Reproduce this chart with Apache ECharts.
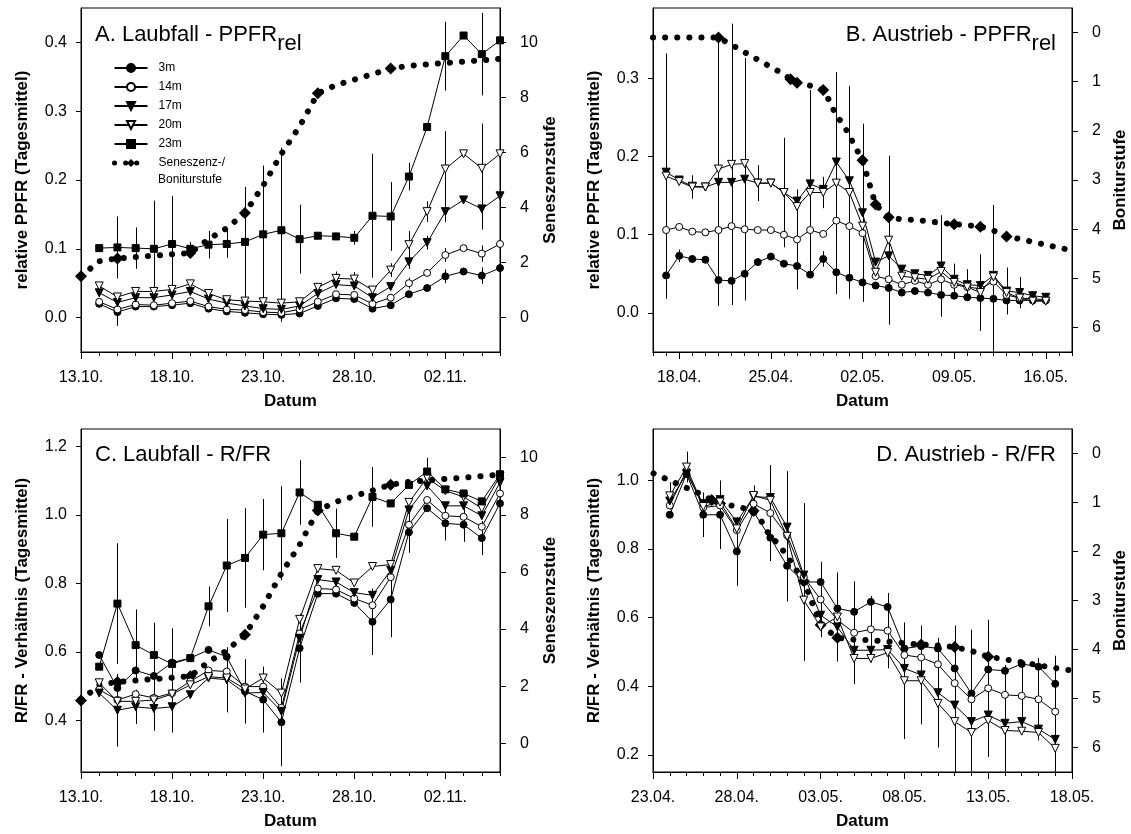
<!DOCTYPE html>
<html><head><meta charset="utf-8">
<script src="https://cdn.jsdelivr.net/npm/echarts@6/dist/echarts.min.js"></script>
<style>html,body{margin:0;padding:0;background:#fff}#c{width:1131px;height:834px}</style>
</head><body><div id="c"></div><script>
// ---------- Laubfall (A, C): day numbers after 13.10. ----------
const laubDays = [1,2,3,4,5,6,7,8,9,10,11,12,13,14,15,16,17,18,19,20,21,22,23];
const laubTickDays = [0,5,10,15,20];
const laubTickLabels = ['13.10.','18.10.','23.10.','28.10.','02.11.'];
// ---------- Austrieb (B, D): day numbers after 16.04. ----------
const austDaysB = [1,2,3,4,5,6,7,8,9,10,11,12,13,14,15,16,17,18,19,20,21,22,23,24,25,26,27,28,29,30];
const austDaysD = [8,9,10,11,12,13,14,15,16,17,18,19,20,21,22,23,24,25,26,27,28,29,30,31];
const bTickDays = [2,9,16,23,30];
const bTickLabels = ['18.04.','25.04.','02.05.','09.05.','16.05.'];
const dTickDays = [7,12,17,22,27,32];
const dTickLabels = ['23.04.','28.04.','03.05.','08.05.','13.05.','18.05.'];

// ---------- A: Laubfall PPFRrel ----------
const A_3m  = [0.020,0.008,0.016,0.016,0.018,0.021,0.013,0.009,0.007,0.005,0.004,0.006,0.017,0.028,0.027,0.013,0.018,0.034,0.043,0.060,0.067,0.061,0.072];
const A_14m = [0.023,0.012,0.019,0.018,0.021,0.024,0.016,0.012,0.011,0.008,0.007,0.012,0.023,0.034,0.033,0.020,0.029,0.050,0.065,0.091,0.101,0.093,0.107];
const A_17m = [0.036,0.022,0.029,0.029,0.033,0.038,0.027,0.021,0.017,0.013,0.012,0.017,0.035,0.048,0.046,0.029,0.045,0.081,0.109,0.154,0.171,0.158,0.177];
const A_20m = [0.046,0.030,0.038,0.038,0.041,0.049,0.035,0.026,0.024,0.023,0.021,0.023,0.044,0.057,0.056,0.040,0.069,0.106,0.154,0.216,0.238,0.217,0.238];
const A_23m = [0.101,0.102,0.101,0.100,0.107,0.100,0.106,0.107,0.110,0.121,0.127,0.114,0.119,0.118,0.116,0.148,0.147,0.205,0.277,0.380,0.410,0.383,0.403];
const A_err_3m  = [0,0.02,0,0,0,0,0,0,0,0,0.01,0,0,0,0,0,0,0,0,0.01,0,0.012,0];
const A_err_14m = [0,0,0,0,0,0,0,0,0,0,0,0,0,0,0,0,0,0.008,0,0.01,0,0.012,0];
const A_err_17m = [0,0.01,0,0,0,0,0,0,0,0,0,0,0,0,0,0,0,0.01,0.01,0.015,0,0.03,0];
const A_err_20m = [0,0,0,0,0,0,0,0,0,0,0,0,0,0.01,0.01,0,0.01,0.02,0.015,0.055,0,0.065,0];
const A_err_23m = [0,0.045,0.03,0.07,0.07,0.01,0.02,0.02,0.08,0.1,0.12,0.05,0,0,0.01,0.09,0.05,0.02,0,0.05,0,0.06,0];

// ---------- B: Austrieb PPFRrel ----------
const B_3m  = [0.048,0.073,0.069,0.068,0.042,0.041,0.050,0.065,0.072,0.063,0.060,0.049,0.069,0.052,0.045,0.039,0.035,0.032,0.026,0.028,0.026,0.023,0.022,0.020,0.019,0.018,0.016,0.016,0.016,0.016];
const B_14m = [0.106,0.110,0.104,0.103,0.106,0.111,0.107,0.106,0.106,0.100,0.094,0.106,0.101,0.118,0.111,0.102,0.047,0.043,0.036,0.041,0.036,0.043,0.036,0.033,0.031,0.040,0.023,0.019,0.018,0.017];
const B_17m = [0.180,0.170,0.162,0.161,0.167,0.167,0.171,0.166,0.166,0.154,0.143,0.165,0.158,0.193,0.169,0.128,0.065,0.073,0.056,0.050,0.048,0.060,0.043,0.036,0.035,0.048,0.028,0.026,0.022,0.020];
const B_20m = [0.175,0.168,0.161,0.161,0.184,0.190,0.191,0.166,0.166,0.154,0.136,0.154,0.154,0.166,0.154,0.111,0.052,0.093,0.047,0.045,0.043,0.053,0.039,0.033,0.026,0.046,0.026,0.019,0.015,0.015];
const B_err_3m  = [0,0.008,0,0,0,0,0,0,0,0,0,0,0.01,0,0,0,0,0,0,0,0,0,0,0,0,0,0,0,0,0];
const B_err_14m = [0,0,0,0,0,0,0,0,0,0,0.064,0,0,0,0,0,0,0,0,0,0,0,0,0,0,0.098,0,0,0,0];
const B_err_17m = [0,0,0,0,0,0,0.155,0,0,0.07,0,0.12,0,0,0,0.114,0,0,0,0,0,0.065,0.02,0.02,0,0,0.03,0.02,0,0];
const B_err_20m = [0.157,0,0.015,0,0.175,0.18,0,0.023,0,0,0,0,0.02,0.142,0.136,0,0,0.108,0,0,0,0,0,0,0.049,0,0,0,0,0];

// ---------- C: Laubfall R/FR ----------
const C_3m  = [0.591,0.495,0.546,0.530,0.569,0.582,0.606,0.586,0.485,0.461,0.395,0.611,0.770,0.770,0.743,0.688,0.753,0.949,1.019,0.975,0.971,0.932,1.033];
const C_14m = [0.490,0.460,0.477,0.466,0.480,0.514,0.546,0.543,0.499,0.499,0.437,0.654,0.785,0.782,0.756,0.736,0.818,0.971,1.043,0.997,0.994,0.965,1.062];
const C_17m = [0.480,0.430,0.440,0.435,0.440,0.475,0.524,0.519,0.480,0.482,0.427,0.640,0.811,0.804,0.773,0.765,0.838,1.014,1.084,1.026,1.026,0.997,1.094];
const C_20m = [0.510,0.456,0.456,0.460,0.477,0.504,0.528,0.524,0.492,0.524,0.480,0.695,0.843,0.838,0.801,0.849,0.855,1.036,1.108,1.070,1.052,1.019,1.113];
const C_23m = [0.557,0.741,0.620,0.591,0.565,0.582,0.733,0.852,0.874,0.942,0.946,1.065,1.029,0.946,0.936,1.052,1.033,1.087,1.126,1.074,1.062,1.039,1.118];
const C_err_3m  = [0,0,0,0,0,0,0,0,0.094,0.096,0.128,0.1,0,0,0,0.097,0.11,0.06,0,0.05,0.05,0.05,0.07];
const C_err_14m = [0,0,0,0,0,0,0,0,0,0,0,0,0,0,0,0,0,0,0,0,0,0,0];
const C_err_17m = [0,0.106,0.05,0.065,0.075,0,0,0.095,0,0,0,0,0,0,0,0,0,0,0,0,0,0,0];
const C_err_20m = [0,0,0,0,0,0,0,0,0,0,0,0,0,0,0,0,0,0,0,0,0,0,0];
const C_err_23m = [0,0.176,0.104,0.094,0.104,0,0.058,0.136,0.145,0.104,0.137,0.094,0,0.072,0,0.087,0,0,0.04,0,0,0,0.05];

// ---------- D: Austrieb R/FR ----------
const D_3m  = [0.900,1.019,0.900,0.900,0.793,0.908,0.833,0.751,0.704,0.704,0.627,0.617,0.646,0.631,0.510,0.517,0.510,0.452,0.379,0.449,0.445,0.465,0.457,0.407];
const D_14m = [0.927,1.029,0.921,0.927,0.855,0.932,0.905,0.840,0.719,0.653,0.593,0.556,0.566,0.562,0.491,0.484,0.464,0.409,0.362,0.394,0.375,0.372,0.362,0.326];
const D_17m = [0.940,1.020,0.932,0.944,0.879,0.953,0.950,0.864,0.724,0.607,0.573,0.505,0.505,0.507,0.452,0.433,0.381,0.345,0.297,0.316,0.292,0.297,0.275,0.245];
const D_20m = [0.955,1.039,0.924,0.937,0.859,0.956,0.942,0.837,0.651,0.573,0.602,0.481,0.481,0.498,0.416,0.416,0.350,0.297,0.265,0.300,0.271,0.269,0.265,0.219];
const D_err_3m  = [0,0,0.065,0.1,0.1,0,0,0,0.23,0,0,0,0,0,0,0,0,0,0,0,0,0,0,0];
const D_err_14m = [0,0,0,0,0,0,0.14,0,0,0.11,0,0.15,0.097,0.11,0,0,0,0,0,0.2,0,0.1,0.12,0];
const D_err_17m = [0,0,0,0,0,0,0,0,0,0,0,0,0,0,0,0.144,0.16,0,0,0,0.17,0,0,0];
const D_err_20m = [0.04,0.045,0,0,0,0.03,0,0.19,0,0,0.13,0,0,0,0.17,0,0,0.28,0.3,0,0,0,0,0.27];

// ---------- Seneszenz-/Boniturstufe ----------
const senLaubDays  = [0,1,2,3,4,5,6,7,8,9,10,11,12,13,14,15,16,17,18,19,20,21,22,23];
const senLaubVals  = [1.5,2.05,2.15,2.2,2.25,2.3,2.35,2.85,3.25,3.8,4.8,5.95,6.95,8.15,8.45,8.65,8.85,9.05,9.15,9.2,9.25,9.3,9.35,9.4];
const senLaubMarks = [0,2,6,9,13,17];
const senAustDays  = [0,1,2,3,4,5,6,7,8,9,10,10.5,11,12,13,13.5,14,14.5,15,15.5,16,16.5,17,18,19,20,21,22,23,24,25,26,27,28,29,30,31,32];
const senAustVals  = [0.1,0.1,0.1,0.1,0.1,0.1,0.25,0.4,0.55,0.7,0.85,0.95,1.02,1.08,1.17,1.4,1.7,1.85,2.1,2.35,2.6,3.05,3.5,3.76,3.8,3.81,3.84,3.87,3.9,3.92,3.95,4.03,4.15,4.2,4.26,4.32,4.38,4.43];
const senAustMarks = [5,10.5,11,13,16,17,18,23,25,27];

const FONT = '"Liberation Sans", Arial, sans-serif';
const BLACK = '#000';

const STY = {
  '3m':  {symbol:'circle',   size:7, fill:'#000', rot:0},
  '14m': {symbol:'circle',   size:7, fill:'#fff', rot:0},
  '17m': {symbol:'triangle', size:8, fill:'#000', rot:180},
  '20m': {symbol:'triangle', size:8, fill:'#fff', rot:180},
  '23m': {symbol:'rect',     size:7, fill:'#000', rot:0}
};
const SEN_NAME = 'Seneszenz-/';

const panels = [
  {rect:{left:81, top:8, width:419, height:344}, xmin:0, xmax:23, ticks:laubTickDays, labels:laubTickLabels, days:laubDays,
   data:{'3m':A_3m,'14m':A_14m,'17m':A_17m,'20m':A_20m,'23m':A_23m},
   err:{'3m':A_err_3m,'14m':A_err_14m,'17m':A_err_17m,'20m':A_err_20m,'23m':A_err_23m},
   yL:{min:-0.05, max:0.45, ticks:[0,0.1,0.2,0.3,0.4], name:'relative PPFR (Tagesmittel)'},
   yR:{min:-1.25, max:11.25, ticks:[0,2,4,6,8,10], inverse:false, name:'Seneszenzstufe'},
   sen:{days:senLaubDays, vals:senLaubVals, marks:senLaubMarks}},
  {rect:{left:653, top:8, width:419, height:344}, xmin:0, xmax:32, ticks:bTickDays, labels:bTickLabels, days:austDaysB,
   data:{'3m':B_3m,'14m':B_14m,'17m':B_17m,'20m':B_20m},
   err:{'3m':B_err_3m,'14m':B_err_14m,'17m':B_err_17m,'20m':B_err_20m},
   yL:{min:-0.05, max:0.39, ticks:[0,0.1,0.2,0.3], name:'relative PPFR (Tagesmittel)'},
   yR:{min:-0.5, max:6.5, ticks:[0,1,2,3,4,5,6], inverse:true, name:'Boniturstufe'},
   sen:{days:senAustDays, vals:senAustVals, marks:senAustMarks}},
  {rect:{left:81, top:429, width:419, height:343}, xmin:0, xmax:23, ticks:laubTickDays, labels:laubTickLabels, days:laubDays,
   data:{'3m':C_3m,'14m':C_14m,'17m':C_17m,'20m':C_20m,'23m':C_23m},
   err:{'3m':C_err_3m,'14m':C_err_14m,'17m':C_err_17m,'20m':C_err_20m,'23m':C_err_23m},
   yL:{min:0.25, max:1.25, ticks:[0.4,0.6,0.8,1.0,1.2], name:'R/FR - Verhältnis (Tagesmittel)'},
   yR:{min:-1, max:11, ticks:[0,2,4,6,8,10], inverse:false, name:'Seneszenzstufe'},
   sen:{days:senLaubDays, vals:senLaubVals, marks:senLaubMarks}},
  {rect:{left:653, top:429, width:419, height:343}, xmin:7, xmax:32, ticks:dTickDays, labels:dTickLabels, days:austDaysD,
   data:{'3m':D_3m,'14m':D_14m,'17m':D_17m,'20m':D_20m},
   err:{'3m':D_err_3m,'14m':D_err_14m,'17m':D_err_17m,'20m':D_err_20m},
   yL:{min:0.15, max:1.15, ticks:[0.2,0.4,0.6,0.8,1.0], name:'R/FR - Verhältnis (Tagesmittel)'},
   yR:{min:-0.5, max:6.5, ticks:[0,1,2,3,4,5,6], inverse:true, name:'Boniturstufe'},
   sen:{days:senAustDays, vals:senAustVals, marks:senAustMarks}}
];

function renderErr(params, api) {
  const x = api.value(0), m = api.value(1), e = api.value(2);
  const a = api.coord([x, m + e]), b = api.coord([x, m - e]);
  const cs = params.coordSys;
  const cl = y => Math.max(cs.y, Math.min(cs.y + cs.height, y));
  const px = Math.round(a[0]) + 0.5;
  return {type:'line', shape:{x1:px, y1:cl(a[1]), x2:px, y2:cl(b[1])}, style:{stroke:BLACK, lineWidth:1}};
}

const labelStyle = {color:BLACK, fontSize:16, fontFamily:FONT};
const nameStyle = {color:BLACK, fontSize:17, fontWeight:'bold', fontFamily:FONT};
const axisLine = {show:true, onZero:false, lineStyle:{color:BLACK, width:1}};

const grid = [], xAxis = [], yAxis = [], series = [];
panels.forEach((p, g) => {
  grid.push(Object.assign({show:true, borderColor:BLACK, borderWidth:1, backgroundColor:'transparent', containLabel:false, outerBoundsMode:'none'}, p.rect));
  // minor (daily) ticks
  xAxis.push({type:'value', gridIndex:g, position:'bottom', min:p.xmin, max:p.xmax, interval:1,
    axisLine, axisTick:{show:true, length:4, lineStyle:{color:BLACK}}, axisLabel:{show:false}, splitLine:{show:false}});
  // major ticks + labels
  const tks = p.ticks, lbs = p.labels;
  xAxis.push({type:'value', gridIndex:g, position:'bottom', min:p.xmin, max:p.xmax,
    axisLine, axisTick:{show:true, length:7, customValues:tks, lineStyle:{color:BLACK}},
    axisLabel:Object.assign({customValues:tks, margin:18, formatter:v => lbs[tks.indexOf(v)] || ''}, labelStyle),
    splitLine:{show:false}, name:'Datum', nameLocation:'middle', nameGap:41, nameTextStyle:nameStyle});
  yAxis.push({type:'value', gridIndex:g, position:'left', min:p.yL.min, max:p.yL.max,
    axisLine, axisTick:{show:true, length:5, customValues:p.yL.ticks, lineStyle:{color:BLACK}},
    axisLabel:Object.assign({customValues:p.yL.ticks, margin:14, formatter:v => v.toFixed(1)}, labelStyle),
    splitLine:{show:false}, name:p.yL.name, nameLocation:'middle', nameGap:50, nameTextStyle:nameStyle});
  yAxis.push({type:'value', gridIndex:g, position:'right', min:p.yR.min, max:p.yR.max, inverse:p.yR.inverse,
    axisLine, axisTick:{show:true, length:6, customValues:p.yR.ticks, lineStyle:{color:BLACK}},
    axisLabel:Object.assign({customValues:p.yR.ticks, margin:20, formatter:v => String(v)}, labelStyle),
    splitLine:{show:false}, name:p.yR.name, nameLocation:'middle', nameGap:40, nameTextStyle:nameStyle});

  const xi = 2 * g, yi = 2 * g, yri = 2 * g + 1;
  // error bars
  const errItems = [];
  Object.keys(p.data).forEach(k => {
    p.data[k].forEach((v, i) => { const e = p.err[k][i]; if (e > 0) errItems.push([p.days[i], v, e]); });
  });
  series.push({type:'custom', name:'err' + g, xAxisIndex:xi, yAxisIndex:yi, data:errItems, renderItem:renderErr,
    encode:{x:0, y:1}, z:2, silent:true, animation:false});
  // senescence
  const s = p.sen;
  series.push({type:'line', name:SEN_NAME, xAxisIndex:xi, yAxisIndex:yri,
    data:s.days.map((d, i) => ({value:[d, s.vals[i]], symbol:s.marks.indexOf(d) >= 0 ? 'diamond' : 'none'})),
    symbol:'diamond', symbolSize:12, showSymbol:true, itemStyle:{color:BLACK},
    lineStyle:{color:BLACK, width:6, type:[0.1, 12], cap:'round'}, z:3, silent:true, animation:false});
  // depth series
  Object.keys(p.data).forEach(k => {
    const st = STY[k];
    series.push({type:'line', name:k, xAxisIndex:xi, yAxisIndex:yi,
      data:p.days.map((d, i) => [d, p.data[k][i]]),
      symbol:st.symbol, symbolSize:st.size, symbolRotate:st.rot, showSymbol:true,
      itemStyle:{color:st.fill, borderColor:BLACK, borderWidth:1},
      lineStyle:{color:BLACK, width:1}, z:4, silent:true, animation:false});
  });
});

const rich = {
  m:{fontSize:22, fontWeight:'normal', lineHeight:26, verticalAlign:'top', fontFamily:FONT, color:BLACK},
  s:{fontSize:22, fontWeight:'normal', lineHeight:26, verticalAlign:'top', padding:[9,0,0,0], fontFamily:FONT, color:BLACK}
};
const option = {
  animation:false,
  backgroundColor:'#fff',
  textStyle:{fontFamily:FONT},
  title:[
    {left:95, top:24, padding:0, text:'{m|A. Laubfall - PPFR}{s|rel}', textStyle:{fontWeight:'normal', rich}},
    {right:75, top:24, padding:0, text:'{m|B. Austrieb - PPFR}{s|rel}', textStyle:{fontWeight:'normal', rich}},
    {left:95, top:444, padding:0, text:'{m|C. Laubfall - R/FR}', textStyle:{fontWeight:'normal', rich}},
    {right:75, top:444, padding:0, text:'{m|D. Austrieb - R/FR}', textStyle:{fontWeight:'normal', rich}}
  ],
  legend:{show:true, orient:'vertical', left:112, top:61, padding:0, itemWidth:33, itemHeight:10, itemGap:5,
    selectedMode:false,
    data:['3m','14m','17m','20m','23m',
      {name:SEN_NAME, lineStyle:{color:BLACK, width:5, type:[0.1, 11], cap:'round'}}],
    textStyle:{fontSize:12, fontFamily:FONT, color:BLACK, lineHeight:14, padding:[0,0,0,6]}},
  graphic:[{type:'text', x:158, y:174, style:{text:'Boniturstufe', fill:BLACK, font:'12px ' + FONT}}],
  grid, xAxis, yAxis, series
};
const chart = echarts.init(document.getElementById('c'));
chart.setOption(option);
</script></body></html>
